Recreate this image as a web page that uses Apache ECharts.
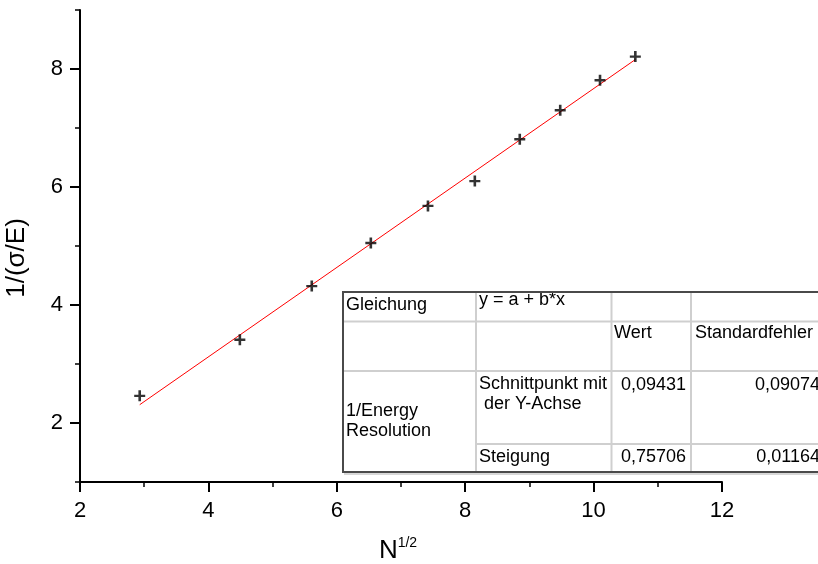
<!DOCTYPE html>
<html>
<head>
<meta charset="utf-8">
<script src="https://cdn.jsdelivr.net/npm/echarts@6/dist/echarts.min.js"></script>
<style>
html,body{margin:0;padding:0;background:#fff;}
#chart{width:818px;height:564px;}
</style>
</head>
<body>
<div id="chart"></div>
<script>
// ---- data ----
const sqrtN = [2.93, 4.49, 5.61, 6.53, 7.42, 8.15, 8.85, 9.48, 10.10, 10.65];
const invRes = [2.46, 3.41, 4.32, 5.05, 5.68, 6.10, 6.81, 7.30, 7.81, 8.21];
const fitX = [2.93, 10.65];
const fitY = [2.31, 8.16];
const xTicks = [2, 4, 6, 8, 10, 12];
const yTicks = [2, 4, 6, 8];
const yMinorTicks = [1, 3, 5, 7, 9];
const tableRows = [
  ['Gleichung', 'y = a + b*x', '', ''],
  ['', '', 'Wert', 'Standardfehler'],
  ['1/Energy\nResolution', 'Schnittpunkt mit\n der Y-Achse', '0,09431', '0,09074'],
  ['', 'Steigung', '0,75706', '0,01164']
];

const FONT = '"Liberation Sans", Arial, sans-serif';
const chart = echarts.init(document.getElementById('chart'), null, {renderer: 'canvas'});

const points = sqrtN.map((x, i) => [x, invRes[i]]);
const fitLine = fitX.map((x, i) => [x, fitY[i]]);

// table geometry (layout only)
const tL = 343, tT = 292, tR = 830, tB = 472;
const cols = [343, 476, 611.5, 691];
const rowsY = [292, 321.5, 371, 444, 472];
const lineCol = '#cfcfcf';
const txt = (text, x, y, align) => ({
  type: 'text', z: 102, x: x, y: y,
  style: {text: text, fill: '#000', font: '18px ' + FONT, align: align || 'left', verticalAlign: 'middle', lineHeight: 20}
});
const tableEls = [
  {type: 'rect', z: 100, shape: {x: tL, y: tT, width: tR - tL, height: tB - tT}, style: {fill: '#fff', stroke: null}},
  // inner grid lines
  {type: 'line', z: 101, shape: {x1: tL, y1: rowsY[1], x2: tR, y2: rowsY[1]}, style: {stroke: lineCol, lineWidth: 2}},
  {type: 'line', z: 101, shape: {x1: tL, y1: rowsY[2], x2: tR, y2: rowsY[2]}, style: {stroke: lineCol, lineWidth: 2}},
  {type: 'line', z: 101, shape: {x1: cols[1], y1: rowsY[3], x2: tR, y2: rowsY[3]}, style: {stroke: lineCol, lineWidth: 2}},
  {type: 'line', z: 101, shape: {x1: cols[1], y1: tT, x2: cols[1], y2: tB}, style: {stroke: lineCol, lineWidth: 2}},
  {type: 'line', z: 101, shape: {x1: cols[2], y1: tT, x2: cols[2], y2: tB}, style: {stroke: lineCol, lineWidth: 2}},
  {type: 'line', z: 101, shape: {x1: cols[3], y1: tT, x2: cols[3], y2: tB}, style: {stroke: lineCol, lineWidth: 2}},
  // outer border
  {type: 'rect', z: 103, shape: {x: tL, y: tT, width: tR - tL, height: tB - tT}, style: {fill: null, stroke: '#4a4a4a', lineWidth: 2}},
  {type: 'line', z: 103, shape: {x1: tL + 1, y1: tB + 2, x2: tR, y2: tB + 2}, style: {stroke: '#b0b0b0', lineWidth: 1}},
  // texts
  txt(tableRows[0][0], 346, 305),
  txt(tableRows[0][1], 479, 300),
  txt(tableRows[1][2], 614, 333),
  txt(tableRows[1][3], 695, 333),
  txt(tableRows[2][0], 346, 421),
  txt(tableRows[2][1], 479, 394),
  txt(tableRows[2][2], 686, 385, 'right'),
  txt(tableRows[2][3], 820, 385, 'right'),
  txt(tableRows[3][1], 479, 457),
  txt(tableRows[3][2], 686, 457, 'right'),
  txt(tableRows[3][3], 820, 457, 'right')
];

const option = {
  animation: false,
  backgroundColor: '#fff',
  grid: {left: 80, right: 96, top: 10, bottom: 82, containLabel: false},
  xAxis: {
    type: 'value', min: xTicks[0], max: xTicks[xTicks.length - 1], interval: 2,
    axisLine: {show: true, onZero: false, lineStyle: {color: '#000', width: 2}},
    axisTick: {show: true, length: 10, lineStyle: {color: '#000', width: 2}},
    minorTick: {show: true, splitNumber: 2, length: 5, lineStyle: {color: '#000', width: 1.5}},
    splitLine: {show: false},
    axisLabel: {color: '#000', fontSize: 22, fontFamily: FONT, margin: 18}
  },
  yAxis: [{
    type: 'value', min: 1, max: 9, interval: 1,
    axisLine: {show: true, onZero: false, lineStyle: {color: '#000', width: 2}},
    axisTick: {show: true, length: 10, customValues: yTicks, lineStyle: {color: '#000', width: 2}},
    splitLine: {show: false},
    axisLabel: {color: '#000', fontSize: 22, fontFamily: FONT, margin: 17, customValues: yTicks}
  }, {
    type: 'value', min: 1, max: 9, interval: 1, position: 'left',
    axisLine: {show: false},
    axisTick: {show: true, length: 5, customValues: yMinorTicks, lineStyle: {color: '#000', width: 1.5}},
    splitLine: {show: false},
    axisLabel: {show: false}
  }],
  series: [{
    type: 'line', data: fitLine, showSymbol: false, symbol: 'none',
    lineStyle: {color: '#ff0000', width: 1}, z: 2, silent: true
  }, {
    type: 'scatter', data: points,
    symbol: 'path://M4.2,0H6.8V4.3H11V6.7H6.8V11H4.2V6.7H0V4.3H4.2Z', symbolSize: 11,
    itemStyle: {color: '#000'}, z: 3, silent: true
  }],
  graphic: [
    {type: 'text', z: 50, x: 17, y: 258, rotation: Math.PI / 2,
      style: {text: '1/(σ/E)', fill: '#000', font: '26px ' + FONT, align: 'center', verticalAlign: 'middle'}},
    {type: 'text', z: 50, x: 398, y: 550,
      style: {text: '{n|N}{s|1/2}', fill: '#000', align: 'center', verticalAlign: 'middle',
        rich: {n: {fontSize: 26, fontFamily: FONT, fill: '#000', lineHeight: 28, verticalAlign: 'bottom'},
               s: {fontSize: 14, fontFamily: FONT, fill: '#000', lineHeight: 28, verticalAlign: 'top'}}}}
  ].concat(tableEls)
};
chart.setOption(option);
</script>
</body>
</html>
